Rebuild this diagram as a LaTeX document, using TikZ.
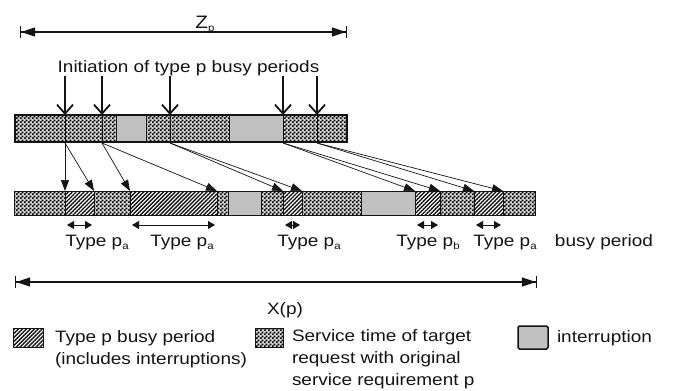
\documentclass[tikz,border=0pt]{standalone}
\usepackage{fontspec}
\setmainfont{Liberation Sans}[FakeStretch=1.15]
\usetikzlibrary{arrows.meta,patterns,patterns.meta}
\definecolor{intgray}{RGB}{192,192,192}
\definecolor{ink}{RGB}{20,20,20}
\definecolor{chkbase}{RGB}{210,210,210}
% checkerboard used for service time
\pgfdeclarepatternformonly{finecheck}{\pgfpointorigin}{\pgfqpoint{4pt}{4pt}}{\pgfqpoint{4pt}{4pt}}{%
  \pgfpathrectangle{\pgfpointorigin}{\pgfqpoint{2pt}{2pt}}%
  \pgfpathrectangle{\pgfqpoint{2pt}{2pt}}{\pgfqpoint{2pt}{2pt}}%
  \pgfusepath{fill}}
% small lowered index letter, as in p_a
\newcommand\subx[1]{\raisebox{-0.35ex}{\fontsize{10}{10}\selectfont #1}}
% a bar segment: name, left x, right x, top y, height, style
\newcommand\barseg[6]{\node[seg,#6,minimum width={#3-#2},minimum height=#5] (#1) at (#2,#4) {};}

\begin{document}
\begin{tikzpicture}[x=1pt,y=-1pt,
  every node/.style={font=\fontsize{16.5}{22}\selectfont, inner sep=0pt, outer sep=0pt, text=ink},
  seg/.style={draw=ink, line width=0.7pt, anchor=north west},
  chk/.style={preaction={fill=chkbase}, pattern=finecheck, pattern color=black},
  hat/.style={pattern={Lines[angle=45,distance=2.8pt,line width=1.4pt]}, pattern color=ink},
  intr/.style={fill=intgray},
  initarrow/.style={line width=1.8pt, draw=ink, -{Straight Barb[length=9pt,width=16pt,line width=1.8pt]}},
  maparrow/.style={line width=0.7pt, draw=ink, -{Triangle[length=11pt,width=8pt]}},
  spanarrow/.style={line width=1.2pt, draw=ink,
    {Bar[width=12pt,line width=1.2pt]Triangle[length=14pt,width=9pt]}-{Triangle[length=14pt,width=9pt]Bar[width=12pt,line width=1.2pt]}},
  dblarrow/.style={line width=0.8pt, draw=ink, {Triangle[length=7pt,width=8pt]}-{Triangle[length=7pt,width=8pt]}, shorten <=2pt, shorten >=2pt},
  legtext/.style={anchor=north west, align=left},
]
\useasboundingbox[fill=white] (0,0) rectangle (673,391);

% ---- span Z_p
\coordinate (zl) at (20,32);
\coordinate (zr) at (347,32);
\draw[spanarrow] (zl) -- (zr);
\node[anchor=base,font=\fontsize{18}{22}\selectfont] (zlab) at (205,28) {Z\subx{p}};

% ---- initiation label
\node[anchor=base] (init) at (188.5,72) {Initiation of type p busy periods};

% ---- upper bar
\barseg{t1}{15}{65}{115}{27}{chk}
\barseg{t2}{65}{102}{115}{27}{chk}
\barseg{t3}{102}{116}{115}{27}{chk}
\barseg{t4}{116}{146}{115}{27}{intr}
\barseg{t5}{146}{170}{115}{27}{chk}
\barseg{t6}{170}{229}{115}{27}{chk}
\barseg{t7}{229}{283}{115}{27}{intr}
\barseg{t8}{283}{317}{115}{27}{chk}
\barseg{t9}{317}{347}{115}{27}{chk}
\draw[line width=2pt, draw=ink] (t1.north west) rectangle (t9.south east);

% ---- initiation arrows
\foreach \n/\x in {2/65,3/102,6/170,8/283,9/317}{
  \coordinate (a\n) at (\x,76);
  \draw[initarrow] (a\n) -- (t\n.north west);
}

% ---- lower bar
\barseg{b1}{14}{65}{191}{24}{chk}
\barseg{b2}{65}{94}{191}{24}{hat}
\barseg{b3}{94}{130}{191}{24}{chk}
\barseg{b4}{130}{217}{191}{24}{hat}
\barseg{b5}{217}{228}{191}{24}{chk}
\barseg{b6}{228}{261}{191}{24}{intr}
\barseg{b7}{261}{283}{191}{24}{chk}
\barseg{b8}{283}{302}{191}{24}{hat}
\barseg{b9}{302}{361}{191}{24}{chk}
\barseg{b10}{361}{415}{191}{24}{intr}
\barseg{b11}{415}{440}{191}{24}{hat}
\barseg{b12}{440}{474}{191}{24}{chk}
\barseg{b13}{474}{503}{191}{24}{hat}
\barseg{b14}{503}{535}{191}{24}{chk}

% ---- mapping arrows: each start maps to both ends of a busy period
\foreach \s/\b in {2/2,3/4,6/8,8/11,9/13}{
  \draw[maparrow] ([yshift=-1pt]t\s.south west) -- (b\b.north west);
  \draw[maparrow] ([yshift=-1pt]t\s.south west) -- (b\b.north east);
}

% ---- busy period lengths
\foreach \b in {2,4,8,11,13}{
  \draw[dblarrow] ([yshift=-10pt]b\b.south west) -- ([yshift=-10pt]b\b.south east);
}
\node[anchor=base] (l1) at (97,246) {Type p\subx{a}};
\node[anchor=base] (l2) at (182,246) {Type p\subx{a}};
\node[anchor=base] (l3) at (309,246) {Type p\subx{a}};
\node[anchor=base] (l4) at (428,246) {Type p\subx{b}};
\node[anchor=base] (l5) at (505,246) {Type p\subx{a}};
\node[anchor=base] (l6) at (604,246) {busy period};

% ---- span X(p)
\coordinate (xl) at (15,282);
\coordinate (xr) at (537,282);
\draw[spanarrow] (xl) -- (xr);
\node[anchor=base] (xlab) at (285,314) {X(p)};

% ---- legend
\node[seg,hat,minimum width=30,minimum height=19] (k1) at (13,328) {};
\node[legtext] (k1t) at (55,331) {Type p busy period\\(includes interruptions)};
\node[seg,chk,minimum width=28,minimum height=19] (k2) at (255,328) {};
\node[legtext] (k2t) at (292,330) {Service time of target\\request with original\\service requirement p};
\node[seg,intr,line width=1.5pt,rounded corners=1.5pt,minimum width=30,minimum height=23] (k3) at (518,326) {};
\node[legtext] (k3t) at (557,331) {interruption};
\end{tikzpicture}
\end{document}
